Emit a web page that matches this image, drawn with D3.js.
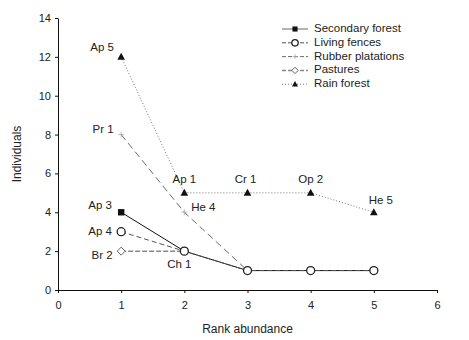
<!DOCTYPE html>
<html>
<head>
<meta charset="utf-8">
<script src="https://cdn.jsdelivr.net/npm/d3@7/dist/d3.min.js"></script>
<style>
  body { margin: 0; background: #fff; }
  text { font-family: "Liberation Sans", Arial, sans-serif; fill: #222; }
</style>
</head>
<body>
<div id="chart"></div>
<script>
// Rank abundance curves per habitat
const ranks = [1, 2, 3, 4, 5]
const secondaryForest = [4, 2, 1, 1, 1]
const livingFences = [3, 2, 1, 1, 1]
const rubberPlantations = [8, 4, 1]
const pastures = [2, 2]
const rainForest = [12, 5, 5, 5, 4]

const xTicks = [0, 1, 2, 3, 4, 5, 6]
const yTicks = [0, 2, 4, 6, 8, 10, 12, 14]

// species labels: [rank, value, text]
const pointLabels = [
  [1, 12, "Ap 5"], [1, 8, "Pr 1"], [1, 4, "Ap 3"], [1, 3, "Ap 4"], [1, 2, "Br 2"],
  [2, 2, "Ch 1"], [2, 4, "He 4"], [2, 5, "Ap 1"], [3, 5, "Cr 1"], [4, 5, "Op 2"], [5, 4, "He 5"]
]

const width = 469, height = 340
const margin = { top: 18, right: 32, bottom: 50, left: 58 }

const svg = d3.select("#chart").append("svg")
  .attr("width", width).attr("height", height)

const x = d3.scaleLinear().domain([0, 6]).range([margin.left, width - margin.right])
const y = d3.scaleLinear().domain([0, 14]).range([height - margin.bottom, margin.top])

// Axes
const xAxis = svg.append("g")
  .attr("transform", `translate(0,${y(0)})`)
  .call(d3.axisBottom(x).tickValues(xTicks).tickFormat(d3.format("d"))
    .tickSize(3).tickPadding(8).tickSizeOuter(0))
const yAxis = svg.append("g")
  .attr("transform", `translate(${x(0)},0)`)
  .call(d3.axisLeft(y).tickValues(yTicks).tickFormat(d3.format("d"))
    .tickSize(3).tickPadding(4).tickSizeOuter(0))

;[xAxis, yAxis].forEach(a => {
  a.select(".domain").attr("stroke", "#111")
  a.selectAll(".tick line").attr("stroke", "#111")
  a.selectAll(".tick text").attr("font-size", 11).attr("fill", "#222")
})

svg.append("text")
  .attr("x", (x(0) + x(6)) / 2).attr("y", 333)
  .attr("text-anchor", "middle").attr("font-size", 12)
  .text("Rank abundance")
svg.append("text")
  .attr("transform", `translate(21,${(y(0) + y(14)) / 2}) rotate(-90)`)
  .attr("text-anchor", "middle").attr("font-size", 12)
  .text("Individuals")

const series = [
  { name: "Secondary forest", values: secondaryForest, stroke: "#111", dash: null, width: 1, marker: "square" },
  { name: "Living fences", values: livingFences, stroke: "#555", dash: "5,3", width: 1, marker: "circle" },
  { name: "Rubber platations", values: rubberPlantations, stroke: "#444", dash: "7,4", width: 0.8, marker: "plus" },
  { name: "Pastures", values: pastures, stroke: "#888", dash: "5,2", width: 1.5, marker: "diamond" },
  { name: "Rain forest", values: rainForest, stroke: "#777", dash: "1,2", width: 1, marker: "triangle" }
]

function drawMarker(g, type, cx, cy, s = 1) {
  if (type === "square") {
    g.append("rect").attr("x", cx - 3.2 * s).attr("y", cy - 3.2 * s)
      .attr("width", 6.4 * s).attr("height", 6.4 * s).attr("fill", "#111")
  } else if (type === "circle") {
    g.append("circle").attr("cx", cx).attr("cy", cy).attr("r", 4 * s)
      .attr("fill", "#fff").attr("stroke", "#222").attr("stroke-width", 1.3)
  } else if (type === "diamond") {
    g.append("path").attr("d", `M${cx},${cy - 4 * s}L${cx + 4 * s},${cy}L${cx},${cy + 4 * s}L${cx - 4 * s},${cy}Z`)
      .attr("fill", "#fff").attr("stroke", "#666").attr("stroke-width", 1)
  } else if (type === "triangle") {
    g.append("path").attr("d", `M${cx},${cy - 4 * s}L${cx + 3.8 * s},${cy + 3 * s}L${cx - 3.8 * s},${cy + 3 * s}Z`)
      .attr("fill", "#111")
  } else if (type === "plus") {
    g.append("path").attr("d", `M${cx - 3 * s},${cy}H${cx + 3 * s}M${cx},${cy - 3 * s}V${cy + 3 * s}`)
      .attr("stroke", "#aaa").attr("stroke-width", 0.8)
  }
}

const line = d3.line().x((d, i) => x(ranks[i])).y(d => y(d))
const plot = svg.append("g")

// draw lines first, markers after so living fences circles sit on top
series.forEach(s => {
  plot.append("path").datum(s.values).attr("d", line)
    .attr("fill", "none").attr("stroke", s.stroke)
    .attr("stroke-width", s.width).attr("stroke-dasharray", s.dash)
})
const drawOrder = [0, 2, 3, 4, 1]
drawOrder.forEach(k => {
  const s = series[k]
  s.values.forEach((v, i) => drawMarker(plot, s.marker, x(ranks[i]), y(v)))
})

// point labels
const labelOffset = {
  "Ap 5": [-19, -9], "Pr 1": [-18, -5], "Ap 3": [-21, -6], "Ap 4": [-21, 0], "Br 2": [-19, 5],
  "Ch 1": [-5, 14], "He 4": [19, -4], "Ap 1": [0, -13], "Cr 1": [-2, -13], "Op 2": [0, -13], "He 5": [7, -11]
}
pointLabels.forEach(([r, v, t]) => {
  const o = labelOffset[t]
  svg.append("text")
    .attr("x", x(r) + o[0]).attr("y", y(v) + o[1])
    .attr("text-anchor", "middle").attr("dominant-baseline", "middle")
    .attr("font-size", 11.5).text(t)
})

// legend
const legend = svg.append("g").attr("transform", "translate(282,29)")
series.forEach((s, i) => {
  const row = legend.append("g").attr("transform", `translate(0,${i * 13.8})`)
  row.append("line").attr("x1", 0).attr("x2", 26)
    .attr("stroke", s.marker === "square" ? "#666" : s.stroke).attr("stroke-width", s.width)
    .attr("stroke-dasharray", s.dash ? (s.marker === "triangle" ? "1,2" : "4,2") : null)
  drawMarker(row, s.marker, 13, 0, 0.8)
  row.append("text").attr("x", 32).attr("y", 0)
    .attr("dominant-baseline", "middle").attr("font-size", 11.5).text(s.name)
})
</script>
</body>
</html>
